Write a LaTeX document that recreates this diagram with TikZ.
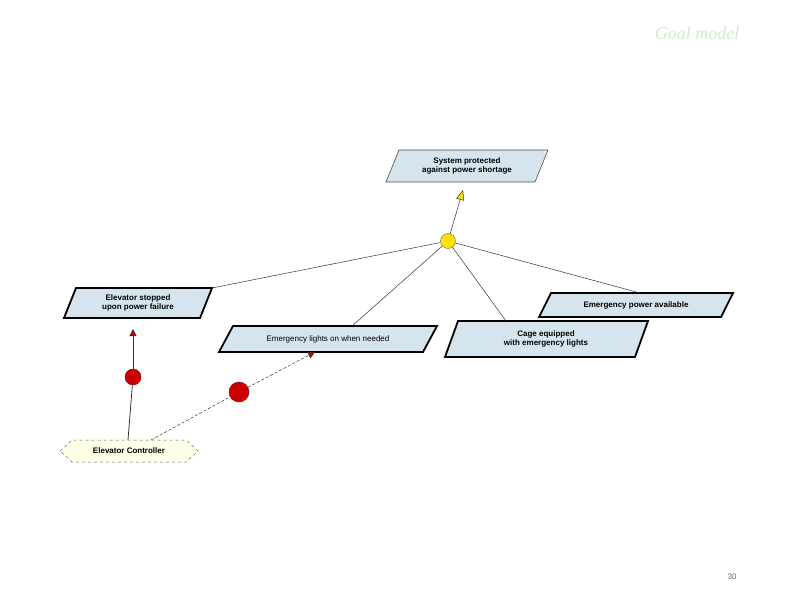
\documentclass[tikz,border=0pt]{standalone}
\usepackage{fontspec}
\setmainfont{Liberation Serif}
\newfontfamily\arialf{Liberation Sans}
\usetikzlibrary{arrows.meta}
\definecolor{goalfill}{RGB}{214,228,238}
\definecolor{ttl}{RGB}{205,235,205}
\begin{document}
\begin{tikzpicture}[x=1pt,y=-1pt,
  goal/.style={fill=goalfill,draw=black,line width=1.8pt},
  lbl/.style={font=\arialf\bfseries\fontsize{8}{9}\selectfont,align=center,inner sep=0},
  lnk/.style={draw=black!80,line width=0.5pt},
  redag/.style={circle,fill=red!80!black,draw=red!50!black,inner sep=0},
  redtip/.style={-{Triangle[length=7pt,width=7pt,fill=red!80!black]}}]
\useasboundingbox (0,0) rectangle (792,612);
\node[font=\itshape\fontsize{18}{20}\selectfont,text=ttl] (title) at (697,33) {Goal model};
\node[font=\arialf\fontsize{8}{9}\selectfont,text=black!60] (pg) at (732,577) {30};
% goals
\draw[fill=goalfill,draw=black!70,line width=0.6pt] (399,150)--(548,150)--(535,182)--(386,182)--cycle;
\node[lbl] (top) at (467,166) {System protected\\against power shortage};
\draw[goal] (76,288)--(212,288)--(200,318)--(64,318)--cycle;
\node[lbl] (es) at (138,303) {Elevator stopped\\upon power failure};
\draw[goal] (233,326)--(437,326)--(423,352)--(219,352)--cycle;
\node[lbl,font=\arialf\fontsize{8}{9}\selectfont] (el) at (328,339) {Emergency lights on when needed};
\draw[goal] (458,321)--(648,321)--(635,357)--(445,357)--cycle;
\node[lbl] (cage) at (546,339) {Cage equipped\\with emergency lights};
\draw[goal] (551,293)--(733,293)--(721,317)--(539,317)--cycle;
\node[lbl] (ep) at (636,305) {Emergency power available};
% agent
\draw[fill=yellow!10,draw=black!60,dashed,line width=0.5pt] (60,451)--(72,440)--(186,440)--(198,451)--(186,462)--(72,462)--cycle;
\node[lbl] (ctrl) at (129,451) {Elevator Controller};
% refinement
\node[circle,fill=yellow!85!orange,draw=black!60,minimum size=15pt,inner sep=0] (ref) at (448,241) {};
\coordinate (topin) at (463,190);
\draw[lnk,-{Triangle[open,length=10pt,width=8pt,fill=yellow!80!orange]}] (ref) -- (topin);
\coordinate (esc) at (212,288);
\coordinate (elc) at (352,326);
\coordinate (cagec) at (506,321);
\coordinate (epc) at (640,293);
\draw[lnk] (ref) -- (esc);
\draw[lnk] (ref) -- (elc);
\draw[lnk] (ref) -- (cagec);
\draw[lnk] (ref) -- (epc);
% responsibility
\node[redag,minimum size=16pt] (r1) at (133,377) {};
\node[redag,minimum size=20pt] (r2) at (239,392) {};
\coordinate (c1) at (128,440);
\coordinate (c2) at (151,440);
\coordinate (t1) at (133,329);
\coordinate (t2) at (315,352);
\draw[lnk,line width=0.8pt] (c1) -- (r1);
\draw[lnk,line width=0.8pt,redtip] (r1) -- (t1);
\draw[lnk,densely dashed] (c2) -- (r2);
\draw[lnk,densely dashed,redtip] (r2) -- (t2);
\end{tikzpicture}
\end{document}
